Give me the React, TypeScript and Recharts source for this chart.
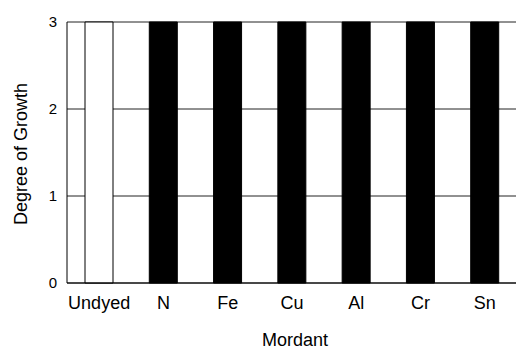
import { BarChart, Bar, XAxis, YAxis, CartesianGrid, Cell } from 'recharts'

const MORDANTS = ['Undyed', 'N', 'Fe', 'Cu', 'Al', 'Cr', 'Sn']
const GROWTH = [3, 3, 3, 3, 3, 3, 3]
const Y_TICKS = [0, 1, 2, 3]

const FONT = '"Liberation Sans", Arial, Helvetica, sans-serif'

const chartData = MORDANTS.map((mordant, i) => ({ mordant, growth: GROWTH[i] }))

function YLabel() {
  return (
    <text
      x={21}
      y={154}
      transform="rotate(-90 21 154)"
      textAnchor="middle"
      dominantBaseline="central"
      fontSize={18}
      fontFamily={FONT}
      fill="#000"
    >
      Degree of Growth
    </text>
  )
}

function XLabel() {
  return (
    <text x={295} y={346} textAnchor="middle" fontSize={18} fontFamily={FONT} fill="#000">
      Mordant
    </text>
  )
}

export default function App() {
  return (
    <div
      style={{
        position: 'absolute',
        left: 0,
        top: 0,
        width: 516,
        height: 350,
        overflow: 'hidden',
        background: '#fff',
      }}
    >
      <BarChart
        width={520}
        height={350}
        data={chartData}
        margin={{ top: 22, right: 3, left: 0, bottom: 0 }}
        barSize={28}
      >
        <CartesianGrid vertical={false} stroke="#222" strokeWidth={1} />
        <XAxis
          dataKey="mordant"
          height={67}
          axisLine={{ stroke: '#000' }}
          tickLine={false}
          tickSize={0}
          tickMargin={13}
          interval={0}
          tick={{ fontSize: 18, fill: '#000', fontFamily: FONT }}
          label={<XLabel />}
        />
        <YAxis
          width={67}
          domain={[0, 3]}
          ticks={Y_TICKS}
          axisLine={{ stroke: '#000' }}
          tickLine={false}
          tickSize={0}
          tickMargin={10}
          tick={{ fontSize: 15, fill: '#000', fontFamily: FONT }}
          label={<YLabel />}
        />
        <Bar dataKey="growth" isAnimationActive={false}>
          {chartData.map((d, i) => (
            <Cell
              key={d.mordant}
              fill={i === 0 ? '#fff' : '#000'}
              stroke="#000"
              strokeWidth={1}
            />
          ))}
        </Bar>
      </BarChart>
    </div>
  )
}
